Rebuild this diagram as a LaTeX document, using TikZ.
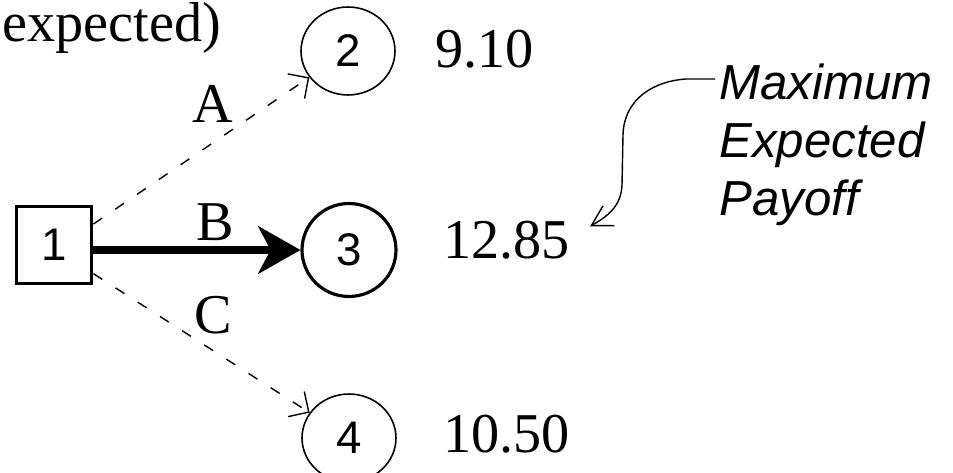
\documentclass[tikz,border=0pt]{standalone}
\usepackage{fontspec}
\setmainfont{Liberation Serif}
\newfontfamily\genfont{Liberation Sans}
\usetikzlibrary{arrows.meta,shapes.geometric,calc}

\begin{document}
\begin{tikzpicture}[x=0.02cm,y=-0.02cm,
  decision/.style={draw,line width=2.2pt,minimum width=1.5cm,minimum height=1.54cm,
    inner sep=0pt,font=\genfont\fontsize{26}{26}\selectfont},
  chance/.style={ellipse,draw,line width=0.9pt,minimum width=1.88cm,minimum height=1.76cm,
    inner sep=0pt,font=\genfont\fontsize{26}{26}\selectfont},
  val/.style={anchor=base west,inner sep=0pt,font=\fontsize{32}{38}\selectfont},
  lbl/.style={anchor=base,inner sep=0pt,font=\fontsize{32}{38}\selectfont},
  alt/.style={dash pattern=on 6pt off 9pt,line width=0.8pt,-{Straight Barb[angle=90:12pt]}}]
\useasboundingbox (0,0) rectangle (953,473);
% decision and chance nodes
\node[anchor=base west,inner sep=0pt,font=\fontsize{32}{38}\selectfont] (hdr) at (2,42) {expected)};
\node[decision] (n1) at (54,245) {1};
\node[chance] (n2) at (348,51) {2};
\node[chance,line width=1.8pt,minimum height=1.86cm] (n3) at (349,250) {3};
\node[chance] (n4) at (349,438) {4};
% payoffs
\node[val] (v2) at (435,68) {9.10};
\node[val] (v3) at (443,258) {12.85};
\node[val] (v4) at (443,452) {10.50};
% alternatives
\draw[alt] (n1.28) -- (n2);
\draw[line width=4.5pt,-{Stealth[length=24pt,width=27pt,inset=7pt]}] (n1.east |- n3) -- (n3.west);
\draw[alt] (n1.-36) -- (n4);
\node[lbl] (la) at (213,122) {A};
\node[lbl] (lb) at (215,240) {B};
\node[lbl] (lc) at (213,333) {C};
% note
\node[anchor=base west,align=left,inner sep=0pt,font=\genfont\itshape\fontsize{28}{33}\selectfont] (note) at (719,215) {Maximum\\Expected\\Payoff};
\coordinate (hook) at (715,79);
\draw[line width=0.8pt,-{Straight Barb[angle=60:13pt]}] (hook) -- (686,79)
  .. controls (655,81) and (624,98) .. (623,135) -- (622,185)
  .. controls (621,205) and (610,215) .. ($(v3.north east)+(20,6)$);
\end{tikzpicture}
\end{document}
